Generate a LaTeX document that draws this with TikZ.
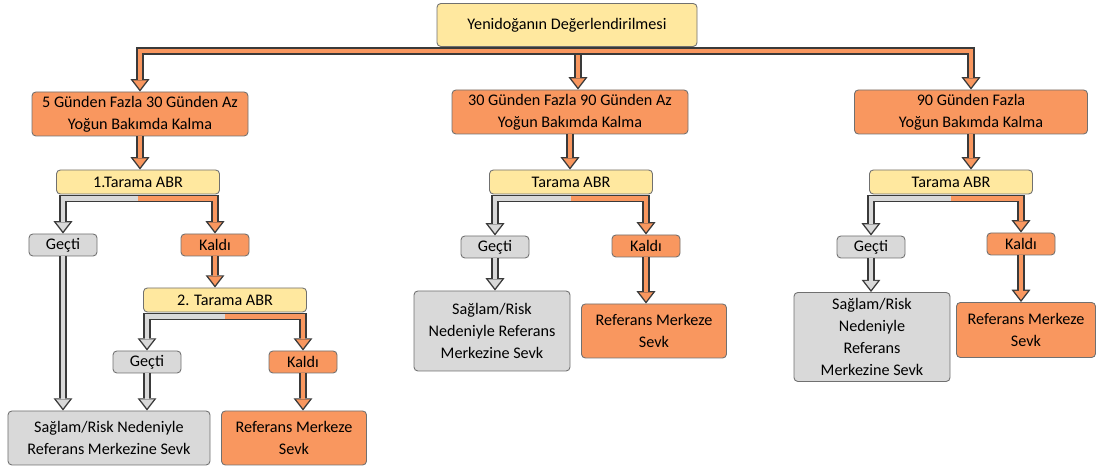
\documentclass[tikz,border=0pt]{standalone}
\usepackage{fontspec}
\setmainfont{Carlito}
\usetikzlibrary{arrows.meta,calc}

\definecolor{paleyel}{HTML}{FFE89F}
\definecolor{salmon}{HTML}{F9975F}
\definecolor{passgray}{HTML}{D9D9D9}
\definecolor{rimline}{HTML}{707070}
\definecolor{pipeline}{HTML}{3A3A3A}

\tikzset{
  box/.style={draw=rimline, line width=0.5pt, rounded corners=2.2pt, align=center,
    inner sep=0pt, font=\fontsize{9.2}{12.5}\selectfont},
  scan/.style={box, fill=paleyel, minimum width=3.26cm, minimum height=0.48cm},
  stay/.style={box, fill=salmon},
  pass/.style={box, fill=passgray},
  tag/.style={minimum width=1.36cm, minimum height=0.44cm},
  pipeout/.style={draw=pipeline, line width=4.3pt,
    -{Triangle[length=7pt, width=10.8pt, line width=0pt]}},
  pipein/.style={draw=#1, line width=2.7pt, shorten >=1.3pt,
    -{Triangle[length=5pt, width=7.7pt, line width=0pt]}},
}

\begin{document}
\begin{tikzpicture}
    \useasboundingbox (0, 0) rectangle (21.96, 9.42);

    % Top
    \node[box, fill=paleyel, minimum width=5.2cm, minimum height=0.86cm] (root) at (11.34, 8.92) {Yenidoğanın Değerlendirilmesi};

    % Length of stay
    \node[stay, minimum width=4.32cm, minimum height=0.88cm] (shortA) at (2.80, 7.14) {5 Günden Fazla 30 Günden Az\\Yoğun Bakımda Kalma};
    \node[stay, minimum width=4.72cm, minimum height=0.88cm] (midB) at (11.40, 7.18) {30 Günden Fazla 90 Günden Az\\Yoğun Bakımda Kalma};
    \node[stay, minimum width=4.66cm, minimum height=0.88cm] (longC) at (19.42, 7.18) {90 Günden Fazla\\Yoğun Bakımda Kalma};

    % Screenings
    \node[scan] (scanA) at (2.76, 5.78) {1.Tarama ABR};
    \node[scan] (scanB) at (11.42, 5.78) {Tarama ABR};
    \node[scan] (scanC) at (19.02, 5.78) {Tarama ABR};
    \node[scan] (scanA2) at (4.50, 3.42) {2. Tarama ABR};

    % Results
    \node[pass, tag] (passA) at (1.26, 4.52) {Geçti};
    \node[stay, tag] (failA) at (4.30, 4.52) {Kaldı};
    \node[pass, tag] (passA2) at (2.94, 2.18) {Geçti};
    \node[stay, tag] (failA2) at (6.06, 2.18) {Kaldı};
    \node[pass, tag] (passB) at (9.90, 4.48) {Geçti};
    \node[stay, tag] (failB) at (12.92, 4.50) {Kaldı};
    \node[pass, tag] (passC) at (17.42, 4.48) {Geçti};
    \node[stay, tag] (failC) at (20.42, 4.54) {Kaldı};

    % Referrals
    \node[pass, minimum width=4.04cm, minimum height=1.08cm] (safeA) at (2.18, 0.66) {Sağlam/Risk Nedeniyle\\Referans Merkezine Sevk};
    \node[stay, minimum width=2.90cm, minimum height=1.08cm] (refA) at (5.88, 0.66) {Referans Merkeze\\Sevk};
    \node[pass, minimum width=3.12cm, minimum height=1.60cm] (safeB) at (9.84, 2.80) {Sağlam/Risk\\Nedeniyle Referans\\Merkezine Sevk};
    \node[stay, minimum width=2.90cm, minimum height=1.08cm] (refB) at (13.08, 2.80) {Referans Merkeze\\Sevk};
    \node[pass, minimum width=3.12cm, minimum height=1.78cm] (safeC) at (17.44, 2.68) {Sağlam/Risk\\Nedeniyle\\Referans\\Merkezine Sevk};
    \node[stay, minimum width=2.78cm, minimum height=1.10cm] (refC) at (20.52, 2.82) {Referans Merkeze\\Sevk};

    % Branches from the top box
    \coordinate (hub) at ($(root.south)+(0.22, 0)$);
    \draw[pipeout] (hub) -- (hub |- midB.north);
    \draw[pipein=salmon] (hub) -- (hub |- midB.north);
    \foreach \t in {shortA, longC} {
        \draw[pipeout] ($(hub)+(0, -0.08)$) -| (\t.north);
        \draw[pipein=salmon] ($(hub)+(0, -0.08)$) -| (\t.north);
    }

    % Straight arrows
    \foreach \s/\t in {shortA/scanA, midB/scanB, longC/scanC, failA/scanA2, failA2/refA, failB/refB, failC/refC} {
        \draw[pipeout] (\s.south) -- (\s.south |- \t.north);
        \draw[pipein=salmon] (\s.south) -- (\s.south |- \t.north);
    }
    \foreach \s/\t in {passA/safeA, passA2/safeA, passB/safeB, passC/safeC} {
        \draw[pipeout] (\s.south) -- (\s.south |- \t.north);
        \draw[pipein=passgray] (\s.south) -- (\s.south |- \t.north);
    }

    % Splits under each screening
    \foreach \s/\t in {scanA/passA, scanA2/passA2, scanB/passB, scanC/passC} {
        \draw[pipeout] ($(\s.south)+(0, -0.08)$) -| (\t.north);
        \draw[pipein=passgray] ($(\s.south)+(0, -0.08)$) -| (\t.north);
    }
    \foreach \s/\t in {scanA/failA, scanA2/failA2, scanB/failB, scanC/failC} {
        \draw[pipeout] ($(\s.south)+(0, -0.08)$) -| (\t.north);
        \draw[pipein=salmon] ($(\s.south)+(0, -0.08)$) -| (\t.north);
    }
\end{tikzpicture}
\end{document}
